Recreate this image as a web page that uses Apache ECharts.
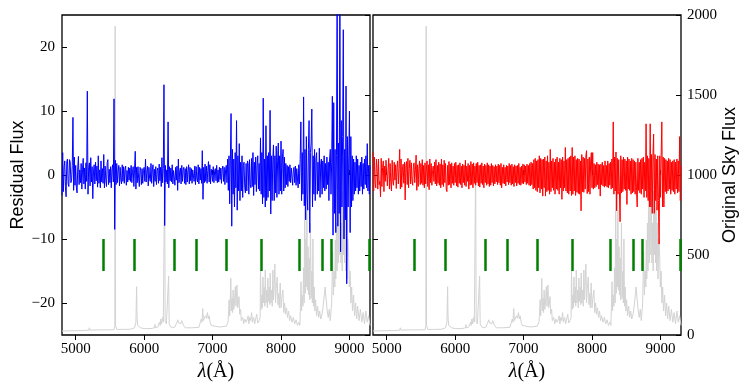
<!DOCTYPE html>
<html><head><meta charset="utf-8">
<script src="https://cdn.jsdelivr.net/npm/echarts@6/dist/echarts.min.js"></script>
<style>html,body{margin:0;padding:0;background:#fff}#c{width:747px;height:391px}</style>
</head><body><div id="c"></div>
<script>
const xTicks = [5000, 6000, 7000, 8000, 9000];
const residTicks = [-20, -10, 0, 10, 20];
const skyTicks = [0, 500, 1000, 1500, 2000];
const greenWave = [5400, 5850, 6440, 6755, 7205, 7705, 8270, 8605, 8735, 9285];

// residual samples: one value every 10 Å starting at 4800 Å (one row = 100 Å)
const residStart = 4800;
const residStep = 10;
const blueResidual = [
-3.2, 3.5, -2.6, 1.2, 2.2, -1.8, -3.4, 2.1, 2.5, -1.4,
-1.8, 2.4, 2.0, -1.2, -0.8, 1.5, 9.0, -2.4, 2.8, -1.6,
1.5, -1.9, -2.8, 1.1, 2.9, -1.5, 0.8, -1.2, 1.8, -2.2,
0.9, 2.6, -1.4, 1.1, -2.2, 1.9, -1.0, 13.1, -3.0, 1.2,
1.9, -1.7, 2.7, -1.1, 1.3, -3.7, 0.6, 1.6, -1.4, 2.0,
-0.9, 1.4, -1.9, 3.0, -1.3, 0.8, -2.0, 2.2, -1.1, 1.0,
-1.3, 3.2, -2.0, 1.4, -0.7, -1.8, 1.9, 2.4, -1.5, 0.9,
-1.2, 1.3, -2.0, 0.8, 1.6, -1.1, 11.9, -8.5, 2.3, -1.5,
1.8, -1.2, 0.6, 1.5, -1.7, 1.2, -0.8, -1.4, 1.6, -1.0,
1.3, -1.3, 0.9, 1.4, -1.6, 0.7, -1.1, 1.2, -0.8, 1.1,
-1.0, 1.5, -1.2, 0.6, 1.3, -1.8, 0.9, 3.7, -2.2, 1.2,
-1.2, 1.3, -0.6, -1.8, 1.2, 0.8, -1.5, 1.0, -1.3, 0.7,
1.2, -1.0, 2.5, -1.1, 0.6, 1.4, -1.7, 1.2, -0.5, -1.0,
1.8, -1.3, 0.8, 1.6, -1.8, 0.9, -1.0, 1.3, -1.5, 0.6,
1.1, -1.3, 1.7, -0.9, 1.2, -1.8, 2.7, -1.2, 1.0, 14.1,
-7.9, 1.5, -1.1, 0.8, -1.4, 8.3, -2.0, 1.3, -0.9, 1.1,
-1.1, 1.6, -1.4, 0.7, 1.0, -1.6, 1.2, -0.8, 1.4, -2.4,
2.5, -1.2, 0.6, 1.1, -1.4, 1.5, -1.0, 0.8, 1.2, -1.3,
1.0, -1.5, 1.3, -1.1, 0.7, 1.6, -1.4, 1.2, -0.9, 1.0,
-1.3, 0.8, 1.1, -1.0, 1.4, -1.5, 1.3, -0.6, -1.1, 1.6,
-1.4, 1.2, -0.8, 1.0, -1.3, 3.8, -3.8, 1.2, -1.2, 1.7,
-1.0, 1.4, -1.3, 0.7, 2.1, -1.1, 1.6, -1.4, 0.9, 1.2,
-1.0, 1.3, -1.2, 0.6, 1.0, -0.9, 1.5, -1.2, 0.8, -1.1,
1.2, -0.7, 1.1, -1.3, 0.9, 1.4, -1.0, 1.2, -1.5, 0.8,
1.5, -1.2, 2.5, -2.4, 3.0, -4.5, 2.2, 9.6, -8.0, 4.0,
-3.0, 2.5, -5.0, 3.5, -2.0, 8.5, -5.5, 3.0, -2.5, 4.9,
-4.0, 2.0, -2.5, 3.0, -3.5, 1.5, 2.0, -2.0, -2.8, 1.8,
-2.5, 2.2, 1.8, -3.0, 2.4, -1.5, -2.0, 2.6, -1.8, 3.5,
-3.2, 2.0, -1.5, 2.8, -2.6, 1.6, 3.0, -2.2, 1.8, -2.5,
5.8, -3.0, 3.5, -4.5, 12.0, -3.5, 2.5, -5.0, 7.7, -4.0,
3.0, -3.5, 3.5, -2.5, 10.1, -6.1, 3.0, -4.0, 2.5, 4.7,
-4.0, 3.0, -2.8, 4.5, -3.5, 2.2, 5.0, -3.0, 3.0, -2.5,
5.3, -3.0, 2.5, 4.0, -2.5, 2.8, -2.0, 1.8, -1.5, 1.5,
-1.8, 1.3, -1.0, 1.6, -1.2, 1.1, 1.4, -1.6, 0.8, 1.2,
-1.2, 1.4, -1.6, 1.0, 1.2, -2.0, 1.6, -1.4, 2.4, 8.3,
-4.0, 3.5, -3.0, 12.2, -4.8, 4.0, -7.0, 6.0, -3.0, -5.5,
4.0, 8.5, -9.0, 3.5, 5.0, 10.3, -5.0, 3.0, -3.0, 4.0,
-4.0, 2.5, 3.5, -3.0, 2.0, -2.5, 4.2, -3.5, 1.8, 2.5,
-3.0, 2.2, -2.0, 3.0, -2.5, 1.8, -2.2, 2.8, -1.5, 2.0,
-4.0, 2.5, 4.0, -3.0, 2.0, 12.3, -9.4, 11.3, -6.0, 4.0,
-9.0, 3.0, 30, -8.0, 5.0, -6.0, 30, -12.0, 8.5, -5.0,
6.0, 22.7, -10.0, 4.0, -7.0, 13.9, -17.0, 6.0, -5.0, 3.0,
10.0, -9.0, 6.0, -5.0, 3.0, -4.0, 2.5, -3.0, 2.0, -2.5,
3.0, -2.0, 2.5, -3.0, 1.5, -2.5, 2.0, -1.8, 2.8, -3.0,
1.8, -2.2, 2.5, -1.5, 3.0, -2.0, 4.9, -2.5, 1.5, -3.0,
1.5
];

const redResidual = [
3.6, -2.5, 2.8, -1.2, -2.0, 2.5, 1.0, -2.2, 2.5, -1.5,
-1.0, -3.4, 2.6, -1.8, 1.2, 2.2, -2.6, 1.4, -1.0, 2.3,
2.4, -1.7, 0.9, 2.6, -2.2, 1.8, -1.2, -2.5, 2.3, -1.0,
-1.6, 2.0, -0.8, 1.6, -2.1, 1.2, 2.2, -1.4, 1.0, 4.0,
-2.2, 2.5, -1.9, 0.9, 1.7, -1.3, 2.0, -3.9, 1.5, 2.1,
-1.5, 2.6, -2.0, 1.0, 2.3, -1.4, 1.9, -0.8, -1.6, 1.4,
1.9, -1.2, 0.8, 3.1, -2.4, 1.6, -1.8, 1.0, 2.2, -1.5,
1.8, -1.3, 2.4, -1.6, 1.5, -2.0, 1.9, -1.4, 0.9, 2.2,
-1.8, 1.6, -2.3, 2.5, -1.2, 1.8, -1.6, 0.7, 1.4, -1.0,
2.0, -1.4, 2.4, -1.7, 1.5, -1.3, 2.0, -1.6, 1.7, -2.0,
2.5, -1.5, 1.6, -1.8, 2.3, -1.2, 1.8, -2.2, -2.6, 1.5,
-1.6, 2.1, -1.5, 1.7, -2.0, 1.9, -1.3, 1.4, -1.6, 1.8,
-1.2, 2.0, -1.7, 1.5, -1.9, 1.6, -1.3, 1.9, -1.5, 1.4,
-2.0, 1.7, -1.2, 1.5, -1.6, 2.3, -1.8, 1.4, -1.0, 1.8,
-2.2, 1.5, -1.6, 2.1, -1.5, 1.7, -2.0, 1.9, -1.3, 1.4,
-1.6, 1.8, -1.2, 2.0, -1.7, 1.5, -1.9, 1.6, -1.3, 1.9,
-1.5, 1.4, -2.0, 1.7, -1.2, 1.5, -1.6, 1.9, -1.4, 1.6,
-1.8, 1.4, -1.6, 1.8, -1.2, 1.5, -1.7, 1.3, -1.4, 1.6,
-1.1, 1.4, -1.5, 1.7, -1.2, 1.5, -1.6, 1.8, -2.0, 1.2,
-1.3, 1.6, -1.4, 1.2, -1.7, 1.5, -1.1, 1.4, -1.5, 1.8,
-1.2, 1.5, -1.6, 1.7, -1.4, 1.3, -1.8, 1.6, -1.2, 1.4,
-1.7, 1.5, -1.3, 1.8, -1.5, 1.2, -1.6, 1.4, -1.3, 1.7,
-1.4, 1.6, -1.1, 1.4, -1.5, 1.7, -1.3, 1.5, -1.6, 1.8,
-1.7, 2.0, -1.5, 1.8, -2.2, 2.4, -2.0, 2.6, -2.4, 2.2,
-2.6, 2.4, -2.0, 3.0, -2.8, 2.6, -2.2, 2.4, -3.3, 2.5,
-2.0, 2.8, -3.3, 2.2, -2.6, 3.0, -2.4, 2.0, -3.0, 4.0,
-2.6, 2.2, -2.0, 2.6, -2.4, 2.0, -3.0, 2.5, -2.2, 2.8,
-2.4, 2.0, -3.0, 2.6, -2.0, 2.4, -3.8, 2.8, -2.5, 2.2,
-2.0, 4.3, -2.5, 2.4, -2.8, 2.6, -3.0, 2.8, -2.5, 3.0,
-3.2, 4.3, -3.0, 2.8, -2.5, 3.0, -3.2, 2.4, -2.7, 2.6,
-2.9, 2.5, -3.0, 2.2, -5.6, 3.2, -2.6, 2.8, -2.7, 2.6,
-2.2, 3.0, 3.8, -2.9, 2.5, -2.6, 2.8, -3.0, 2.2, 3.5,
-2.0, 3.5, -2.2, 1.8, -2.0, 1.6, -1.8, 2.0, -1.5, 1.7,
-2.2, 1.6, -3.3, 1.7, -1.5, 2.0, -1.7, 1.5, -1.9, 2.2,
-1.7, 1.5, -1.9, 2.2, -2.0, 1.8, -1.6, 2.0, -2.2, 2.5,
-2.0, 8.3, -3.0, 2.8, -2.5, 3.6, -5.6, 2.6, -3.0, 2.4,
-2.6, -7.3, 3.0, -2.8, 2.4, -2.6, 2.8, -2.2, 2.5, -2.4,
2.2, -4.6, 2.8, -2.2, 2.5, -2.4, 2.2, -3.0, 2.6, -2.8,
2.4, -2.6, 2.2, -3.0, 2.0, -2.4, -5.0, 2.6, -2.4, 2.0,
-2.8, 2.4, -3.0, 2.6, -2.2, 2.8, -3.5, 2.0, -2.5, 8.0,
-3.5, 3.0, -4.0, 2.6, -5.0, 8.0, -5.0, 3.2, -6.0, 3.0,
6.4, -6.0, 3.2, -4.0, 2.5, -5.5, 3.0, -4.0, -10.8, 3.0,
-3.5, 3.0, 8.3, -5.0, 2.8, -5.0, 2.6, -2.6, 2.4, -2.9,
2.2, -2.5, 2.6, -2.2, 2.4, -3.0, 2.0, -2.4, 2.2, -2.6,
2.4, -3.0, 2.0, -2.2, 2.5, -2.8, 2.2, -2.6, 6.0, -4.0,
1.5
];

const skyFlux = [
[4800,25],[4900,26],[5000,27],[5100,28],[5190,30],[5199,45],[5208,30],[5320,32],[5330,42],[5340,32],[5450,32],[5560,33],
[5572,60],[5577,1930],[5582,60],[5600,35],[5700,35],[5800,36],[5860,45],[5880,80],[5890,302],[5896,120],[5905,60],[5930,55],
[5950,45],[6000,40],[6100,40],[6150,45],[6158,65],[6166,45],[6200,50],[6225,80],[6235,60],[6245,100],[6255,70],[6268,110],
[6280,80],[6293,90],[6300,1070],[6307,90],[6325,70],[6345,80],[6358,369],[6366,70],[6390,50],[6420,45],[6450,50],[6470,70],
[6480,60],[6492,95],[6505,75],[6520,85],[6535,70],[6548,90],[6560,80],[6575,60],[6600,45],[6700,45],[6800,48],[6820,60],
[6835,100],[6845,80],[6856,165],[6866,90],[6880,100],[6895,120],[6910,105],[6925,140],[6938,100],[6950,120],[6965,80],[6980,60],
[7000,50],[7100,50],[7200,55],[7225,80],[7235,150],[7242,220],[7250,120],[7258,200],[7266,354],[7274,150],[7284,230],[7292,140],
[7300,281],[7310,160],[7320,200],[7332,302],[7342,180],[7356,312],[7366,170],[7376,200],[7386,240],[7396,130],[7410,160],[7420,90],
[7440,110],[7455,70],[7470,100],[7490,80],[7505,95],[7520,120],[7530,70],[7545,110],[7558,90],[7570,140],[7582,80],[7600,110],
[7615,70],[7630,100],[7645,130],[7660,75],[7680,90],[7695,110],[7700,406],[7710,160],[7720,250],[7728,170],[7736,362],[7745,200],
[7755,300],[7762,180],[7770,406],[7780,200],[7790,280],[7800,170],[7808,356],[7818,210],[7828,300],[7835,190],[7842,387],[7852,200],
[7862,280],[7872,180],[7881,406],[7890,220],[7900,310],[7910,444],[7920,200],[7930,290],[7944,362],[7955,190],[7965,260],[7975,170],
[7988,325],[8000,170],[8012,230],[8027,281],[8040,140],[8052,200],[8065,130],[8080,170],[8095,110],[8110,150],[8125,90],[8140,120],
[8160,80],[8180,110],[8200,70],[8220,95],[8240,60],[8260,80],[8275,60],[8285,200],[8292,333],[8300,150],[8310,250],[8320,180],
[8330,420],[8338,200],[8346,900],[8354,260],[8362,600],[8370,300],[8378,780],[8386,280],[8395,552],[8403,250],[8412,480],[8420,220],
[8430,700],[8440,230],[8450,400],[8458,200],[8466,600],[8475,180],[8485,300],[8495,150],[8505,220],[8520,120],[8535,180],[8550,110],
[8565,150],[8580,100],[8600,130],[8615,180],[8625,220],[8635,260],[8645,300],[8655,240],[8665,200],[8675,150],[8690,110],[8705,160],
[8720,90],[8740,200],[8754,521],[8765,250],[8776,400],[8786,300],[8793,594],[8800,350],[8810,700],[8818,400],[8828,950],[8836,450],
[8845,800],[8852,1000],[8860,500],[8868,850],[8876,450],[8885,700],[8894,400],[8902,900],[8910,500],[8920,1110],[8928,450],[8936,800],
[8945,400],[8955,700],[8964,350],[8975,600],[8987,521],[8998,300],[9010,400],[9020,200],[9032,300],[9045,150],[9060,250],[9075,120],
[9090,200],[9105,100],[9120,180],[9140,90],[9160,160],[9180,80],[9200,140],[9220,70],[9240,150],[9260,80],[9280,120],[9300,60]
];

const serif = 'Liberation Serif';
const sans = 'Liberation Sans';
const plain = v => String(v);
const fmtMinus = v => String(v).replace('-', '\u2212');
const tickStyle = {show: true, inside: true, length: 5, lineStyle: {color: '#000', width: 1}};
const toPairs = vals => vals.map((v, i) => [residStart + i * residStep, v]);

function xAx(grid, pos, labels) {
  const a = {
    type: 'value', gridIndex: grid, position: pos, min: 4800, max: 9300,
    axisLine: {show: false}, splitLine: {show: false},
    axisTick: Object.assign({customValues: xTicks}, tickStyle),
    axisLabel: {show: labels, customValues: xTicks, formatter: plain, fontFamily: serif, fontSize: 15, color: '#000', margin: 7}
  };
  if (labels) {
    a.name = '{i|\u03bb}(\u00c5)';
    a.nameLocation = 'middle';
    a.nameGap = 27;
    a.nameTextStyle = {fontFamily: serif, fontSize: 20, color: '#000',
      rich: {i: {fontFamily: serif, fontStyle: 'italic', fontSize: 20, color: '#000'}}};
  }
  return a;
}
function resAx(grid, labels) {
  const a = {
    type: 'value', gridIndex: grid, position: 'left', min: -25, max: 25,
    axisLine: {show: false}, splitLine: {show: false},
    axisTick: Object.assign({customValues: residTicks}, tickStyle),
    axisLabel: {show: labels, customValues: residTicks, formatter: fmtMinus, fontFamily: serif, fontSize: 15, color: '#000', margin: 7}
  };
  if (labels) {
    a.name = 'Residual Flux'; a.nameLocation = 'middle'; a.nameGap = 35; a.nameRotate = 90;
    a.nameTextStyle = {fontFamily: sans, fontSize: 18, color: '#000'};
  }
  return a;
}
function skyAx(grid, labels) {
  const a = {
    type: 'value', gridIndex: grid, position: 'right', min: 0, max: 2000, interval: 500,
    axisLine: {show: false}, splitLine: {show: false},
    axisTick: tickStyle,
    axisLabel: {show: labels, customValues: skyTicks, formatter: plain, fontFamily: serif, fontSize: 15, color: '#000', margin: 6}
  };
  if (labels) {
    a.name = 'Original Sky Flux'; a.nameLocation = 'middle'; a.nameGap = 40; a.nameRotate = 90;
    a.nameTextStyle = {fontFamily: sans, fontSize: 18, color: '#000'};
  }
  return a;
}
function greenSeries(xi, yi) {
  return {type: 'lines', coordinateSystem: 'cartesian2d', xAxisIndex: xi, yAxisIndex: yi, z: 5,
    polyline: false, silent: true,
    lineStyle: {color: '#008000', width: 2.5, opacity: 1},
    data: greenWave.map(w => ({coords: [[w, -10], [w, -15]]}))};
}
function lineSeries(xi, yi, data, color, z, w) {
  return {type: 'line', xAxisIndex: xi, yAxisIndex: yi, data: data, showSymbol: false, symbol: 'none',
    sampling: null, clip: true, z: z, lineStyle: {color: color, width: w}, itemStyle: {color: color}};
}

const chart = echarts.init(document.getElementById('c'), null, {renderer: 'canvas'});
chart.setOption({
  animation: false,
  backgroundColor: '#fff',
  grid: [
    {left: 62, top: 15, width: 308, height: 320, show: true, borderColor: '#000', borderWidth: 1.3, backgroundColor: 'transparent'},
    {left: 373, top: 15, width: 308, height: 320, show: true, borderColor: '#000', borderWidth: 1.3, backgroundColor: 'transparent'}
  ],
  xAxis: [xAx(0, 'bottom', true), xAx(0, 'top', false), xAx(1, 'bottom', true), xAx(1, 'top', false)],
  yAxis: [resAx(0, true), skyAx(0, false), resAx(1, false), skyAx(1, true)],
  series: [
    lineSeries(0, 1, skyFlux, '#d3d3d3', 1, 1),
    lineSeries(0, 0, toPairs(blueResidual), '#0000ff', 2, 1),
    greenSeries(0, 0),
    lineSeries(2, 3, skyFlux, '#d3d3d3', 1, 1),
    lineSeries(2, 2, toPairs(redResidual), '#ff0000', 2, 1),
    greenSeries(2, 2)
  ]
});
</script></body></html>
